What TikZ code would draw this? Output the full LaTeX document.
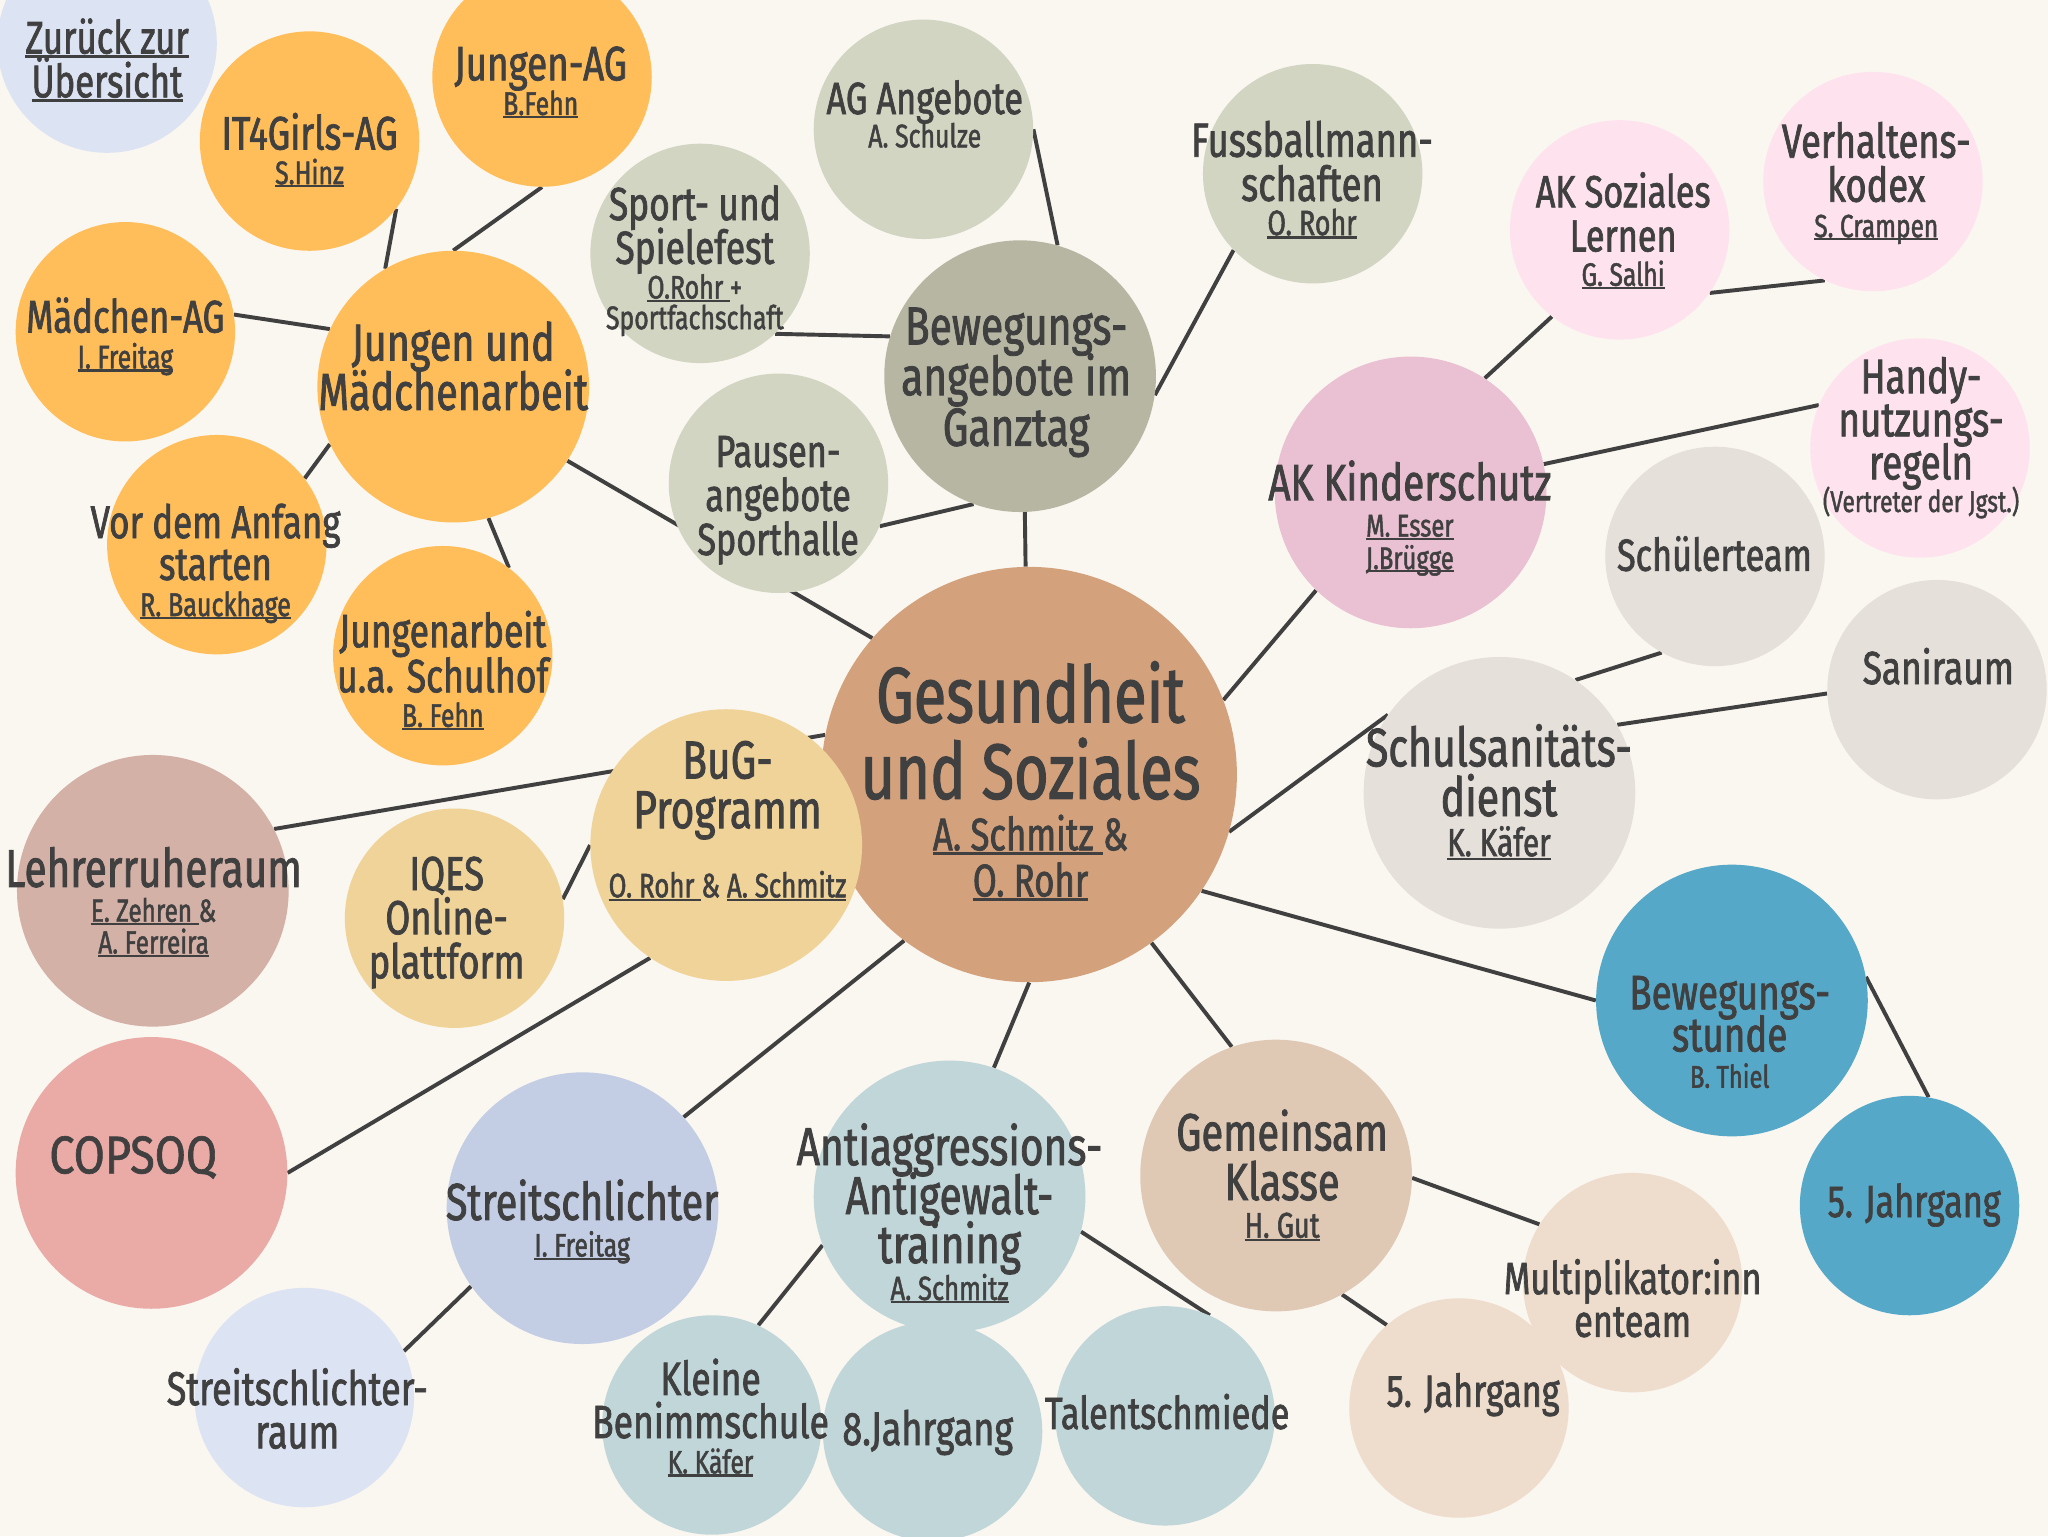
\documentclass[tikz,border=0pt]{standalone}
\usepackage{fontspec}
\setmainfont{Fira Sans}[FakeStretch=0.76,FakeBold=1.5]
\newfontfamily\copfont{Fira Sans}[FakeStretch=0.85,FakeBold=1.2]
\pgfdeclarelayer{bgfill}
\pgfdeclarelayer{lines}
\pgfsetlayers{bgfill,lines,main}
\definecolor{paper}{HTML}{FAF6F0}
\definecolor{ink}{HTML}{404040}
\definecolor{corange}{HTML}{FFBE5A}
\definecolor{csage}{HTML}{D3D5C3}
\definecolor{csageD}{HTML}{B6B6A2}
\definecolor{cbrown}{HTML}{D3A27D}
\definecolor{cpinkD}{HTML}{EAC0D3}
\definecolor{cpinkL}{HTML}{FEE3EF}
\definecolor{cgreyB}{HTML}{E6E0DA}
\definecolor{cblue}{HTML}{56A8C8}
\definecolor{ctan}{HTML}{DFC9B5}
\definecolor{cbeigeL}{HTML}{EEDDCC}
\definecolor{cteal}{HTML}{C1D6D9}
\definecolor{cperi}{HTML}{C3CEE5}
\definecolor{cperiL}{HTML}{DCE3F3}
\definecolor{ccoral}{HTML}{EAAAA6}
\definecolor{cmauve}{HTML}{D4B1A7}
\definecolor{csand}{HTML}{F0D399}
\newsavebox\ulbox
\newcommand\ul[1]{\sbox\ulbox{#1}\rlap{\rule[-0.1em]{\wd\ulbox}{0.065em}}\usebox\ulbox}
\newcommand\MLines[2]{\vtop{\baselineskip=#1\lineskiplimit=-1000pt\lineskip=0pt\halign{\hfil##\hfil\cr#2\crcr}}}
\newcommand\Fs[1]{\fontsize{#1}{#1}\selectfont}
\tikzset{
  bub/.style={circle,inner sep=0pt,minimum size=#1pt,draw=none},
  txt/.style={anchor=base,inner sep=0pt,text=ink},
  conn/.style={draw=ink,line width=3pt}
}
\begin{document}
\begin{tikzpicture}[x=1pt,y=-1pt]
\useasboundingbox (0,0) rectangle (1568,1176);
\begin{pgfonlayer}{bgfill}
\fill[paper] (0,0) rectangle (1568,1176);
\end{pgfonlayer}
% circles
\node[bub=168,fill=cperiL] (zur) at (82,33) {};
\node[bub=168,fill=corange] (it4) at (237,108) {};
\node[bub=168,fill=corange] (jag) at (415,59) {};
\node[bub=168,fill=corange] (mag) at (96,254) {};
\node[bub=208,fill=corange] (jum) at (347,296) {};
\node[bub=168,fill=corange] (vor) at (166,417) {};
\node[bub=168,fill=corange] (jua) at (339,502) {};
\node[bub=168,fill=csage] (agA) at (707,99) {};
\node[bub=168,fill=csage] (spf) at (536,194) {};
\node[bub=208,fill=csageD] (bew) at (781,288) {};
\node[bub=168,fill=csage] (fus) at (1005,133) {};
\node[bub=168,fill=csage] (pau) at (596,370) {};
\node[bub=168,fill=cpinkL] (aks) at (1240,176) {};
\node[bub=168,fill=cpinkL] (ver) at (1434,139) {};
\node[bub=208,fill=cpinkD] (akk) at (1080,377) {};
\node[bub=168,fill=cpinkL] (han) at (1470,343) {};
\node[bub=168,fill=cgreyB] (sch) at (1313,426) {};
\node[bub=318,fill=cbrown] (ges) at (788,593) {};
\node[bub=208,fill=cgreyB] (ssd) at (1148,607) {};
\node[bub=168,fill=cgreyB] (san) at (1483,528) {};
\node[bub=208,fill=cblue] (bst) at (1326,766) {};
\node[bub=208,fill=ctan] (gkl) at (977,900) {};
\node[bub=168,fill=cbeigeL] (mul) at (1250,982) {};
\node[bub=168,fill=cbeigeL] (j5b) at (1117,1078) {};
\node[bub=168,fill=cblue] (j5u) at (1462,923) {};
\node[bub=168,fill=cteal] (tal) at (892,1084) {};
\node[bub=208,fill=ccoral] (cop) at (116,898) {};
\node[bub=208,fill=cperi] (str) at (446,925) {};
\node[bub=168,fill=cperiL] (srr) at (233,1070) {};
\node[bub=208,fill=cteal] (ant) at (727,916) {};
\node[bub=168,fill=cteal] (kbs) at (545,1091) {};
\node[bub=168,fill=cteal] (j8) at (714,1096) {};
\node[bub=208,fill=cmauve] (leh) at (117,682) {};
\node[bub=168,fill=csand] (iqe) at (348,703) {};
\node[bub=208,fill=csand] (bug) at (556,647) {};
% texts
\node[txt,font=\Fs{35}] (zur-t) at (82,41) {\MLines{33.5pt}{\ul{Zurück zur}\cr\ul{Übersicht}}};
\node[txt,font=\Fs{36}] (it4-t) at (237,114.5) {\MLines{26.5pt}{IT4Girls-AG\cr\Fs{25}\ul{S.Hinz}}};
\node[txt,font=\Fs{37}] (jag-t) at (414,61.5) {\MLines{26.5pt}{Jungen-AG\cr\Fs{25}\ul{B.Fehn}}};
\node[txt,font=\Fs{35}] (mag-t) at (96,254.6) {\MLines{27.4pt}{Mädchen-AG\cr\Fs{25}\ul{I. Freitag}}};
\node[txt,font=\Fs{39.8}] (jum-t) at (347,276) {\MLines{37.8pt}{Jungen und\cr Mädchenarbeit}};
\node[txt,font=\Fs{35.2}] (vor-t) at (165,412) {\MLines{32pt}{Vor dem Anfang\cr starten\cr\noalign{\kern-4.3pt}\Fs{25.3}\ul{R. Bauckhage}}};
\node[txt,font=\Fs{35.8}] (jua-t) at (339,495.5) {\MLines{34.5pt}{Jungenarbeit\cr u.a. Schulhof\cr\noalign{\kern-8pt}\Fs{25}\ul{B. Fehn}}};
\node[txt,font=\Fs{34.5}] (agA-t) at (708,87.3) {\MLines{25.5pt}{AG Angebote\cr\Fs{25}A. Schulze}};
\node[txt,font=\Fs{35.6}] (spf-t) at (532,168.5) {\MLines{33.5pt}{Sport- und\cr Spielefest\cr\noalign{\kern-6.9pt}\Fs{25}\ul{O.Rohr }+\cr\noalign{\kern-10.1pt}\Fs{25}Sportfachschaft}};
\node[txt,font=\Fs{41}] (bew-t) at (778,263.7) {\MLines{38.8pt}{Bewegungs-\cr angebote im\cr Ganztag}};
\node[txt,font=\Fs{36.7}] (fus-t) at (1004.5,120) {\MLines{33.8pt}{Fussballmann-\cr schaften\cr\noalign{\kern-7.6pt}\Fs{27}\ul{O. Rohr}}};
\node[txt,font=\Fs{34.5}] (pau-t) at (595.7,357.5) {\MLines{33.7pt}{Pausen-\cr angebote\cr Sporthalle}};
\node[txt,font=\Fs{34.5}] (aks-t) at (1242.7,158.7) {\MLines{33.8pt}{AK Soziales\cr Lernen\cr\noalign{\kern-7.5pt}\Fs{24.8}\ul{G. Salhi}}};
\node[txt,font=\Fs{36.5}] (ver-t) at (1436.5,120.7) {\MLines{33.7pt}{Verhaltens-\cr kodex\cr\noalign{\kern-6.5pt}\Fs{24.6}\ul{S. Crampen}}};
\node[txt,font=\Fs{39}] (akk-t) at (1079.4,382.9) {\MLines{24.9pt}{AK Kinderschutz\cr\noalign{\kern3pt}\Fs{24}\ul{M. Esser}\cr\Fs{24}\ul{J.Brügge}}};
\node[txt,font=\Fs{37}] (han-t) at (1470.8,301) {\MLines{33pt}{Handy-\cr nutzungs-\cr regeln\cr\noalign{\kern-8pt}\Fs{23}(Vertreter der Jgst.)}};
\node[txt,font=\Fs{34.5}] (sch-t) at (1312.6,437) {Schülerteam};
\node[txt,font=\Fs{60}] (ges-t) at (789,553) {\MLines{58.6pt}{Gesundheit\cr und Soziales\cr\noalign{\kern-19.2pt}\Fs{35}\ul{A. Schmitz }\&\cr\noalign{\kern-23.3pt}\Fs{35}\ul{O. Rohr}}};
\node[txt,font=\Fs{41.4}] (ssd-t) at (1147.6,586.7) {\MLines{38.1pt}{Schulsanitäts-\cr dienst\cr\noalign{\kern-7.4pt}\Fs{30}\ul{K. Käfer}}};
\node[txt,font=\Fs{35.5}] (san-t) at (1484,523.7) {Saniraum};
\node[txt,font=\Fs{37}] (bst-t) at (1324.3,772.7) {\MLines{32.3pt}{Bewegungs-\cr stunde\cr\noalign{\kern-4.5pt}\Fs{24}B. Thiel}};
\node[txt,font=\Fs{40.2}] (gkl-t) at (981.6,880.8) {\MLines{38pt}{Gemeinsam\cr Klasse\cr\noalign{\kern-9.2pt}\Fs{27.4}\ul{H. Gut}}};
\node[txt,font=\Fs{34.5}] (mul-t) at (1250,990.8) {\MLines{32.7pt}{Multiplikator:inn\cr enteam}};
\node[txt,font=\Fs{34.5}] (j5b-t) at (1127.8,1077) {5. Jahrgang};
\node[txt,font=\Fs{34.5}] (j5u-t) at (1465.5,931.8) {5. Jahrgang};
\node[txt,font=\Fs{34.5}] (tal-t) at (893.6,1094) {Talentschmiede};
\node[txt,font=\copfont\Fs{40.6}] (cop-t) at (102,898.3) {COPSOQ};
\node[txt,font=\Fs{39.8}] (str-t) at (445.7,934) {\MLines{28pt}{Streitschlichter\cr\Fs{25}\ul{I. Freitag}}};
\node[txt,font=\Fs{36.2}] (srr-t) at (227.6,1075.7) {\MLines{33.2pt}{Streitschlichter-\cr raum}};
\node[txt,font=\Fs{41}] (ant-t) at (727,892) {\MLines{37.5pt}{Antiaggressions-\cr Antigewalt-\cr training\cr\noalign{\kern-9.2pt}\Fs{25.7}\ul{A. Schmitz}}};
\node[txt,font=\Fs{35.7}] (kbs-t) at (544,1068) {\MLines{33pt}{Kleine\cr Benimmschule\cr\noalign{\kern-6pt}\Fs{24.8}\ul{K. Käfer}}};
\node[txt,font=\Fs{36.2}] (j8-t) at (710.3,1106.4) {8.Jahrgang};
\node[txt,font=\Fs{40.8}] (leh-t) at (117.6,679) {\MLines{24.3pt}{Lehrerruheraum\cr\noalign{\kern2.4pt}\Fs{24.5}\ul{E. Zehren }\&\cr\Fs{24.5}\ul{A. Ferreira}}};
\node[txt,font=\Fs{36.5}] (iqe-t) at (342,681.4) {\MLines{33.8pt}{IQES\cr Online-\cr plattform}};
\node[txt,font=\Fs{41}] (bug-t) at (557,596) {\MLines{38pt}{BuG-\cr Programm\cr\noalign{\kern15pt}\Fs{26}\ul{O. Rohr }\& \ul{A. Schmitz}}};
% connectors
\begin{pgfonlayer}{lines}
\draw[conn] (jum.90) -- (jag.-90);
\draw[conn] (jum.120.5) -- (it4.-38.8);
\draw[conn] (jum.155) -- (mag.9.5);
\draw[conn] (jum.205) -- (vor.37);
\draw[conn] (jum.-75.6) -- (jua.53);
\draw[conn] (jum.-33.2) -- (ges.139.8);
\draw[conn] (bew.74) -- (agA.0);
\draw[conn] (bew.163.5) -- (spf.-47.4);
\draw[conn] (bew.-8) -- (fus.224);
\draw[conn] (bew.250) -- (pau.-23.9);
\draw[conn] (bew.-88) -- (ges.91.4);
\draw[conn] (ges.21.1) -- (akk.226.5);
\draw[conn] (akk.57.8) -- (aks.232.3);
\draw[conn] (aks.-35.2) -- (ver.244.9);
\draw[conn] (akk.12.5) -- (han.157);
\draw[conn] (ges.-16.6) -- (ssd.145.1);
\draw[conn] (ssd.56.2) -- (sch.241.3);
\draw[conn] (ssd.30.4) -- (san.182.7);
\draw[conn] (ges.-34.1) -- (bst.180);
\draw[conn] (bst.10) -- (j5u.80.5);
\draw[conn] (ges.-54.2) -- (gkl.109);
\draw[conn] (gkl.-1.6) -- (mul.148.4);
\draw[conn] (gkl.-61.7) -- (j5b.131.6);
\draw[conn] (ges.-90.4) -- (ant.71.2);
\draw[conn] (ant.-15.4) -- (tal.66.4);
\draw[conn] (ant.201.7) -- (kbs.65.6);
\draw[conn] (ges.233.8) -- (str.42.3);
\draw[conn] (str.215.2) -- (srr.25.4);
\draw[conn] (bug.236.8) -- (cop.0.5);
\draw[conn] (ges.169.2) -- (leh.27);
\draw[conn] (bug.180) -- (iqe.10);
\end{pgfonlayer}
\end{tikzpicture}
\end{document}
